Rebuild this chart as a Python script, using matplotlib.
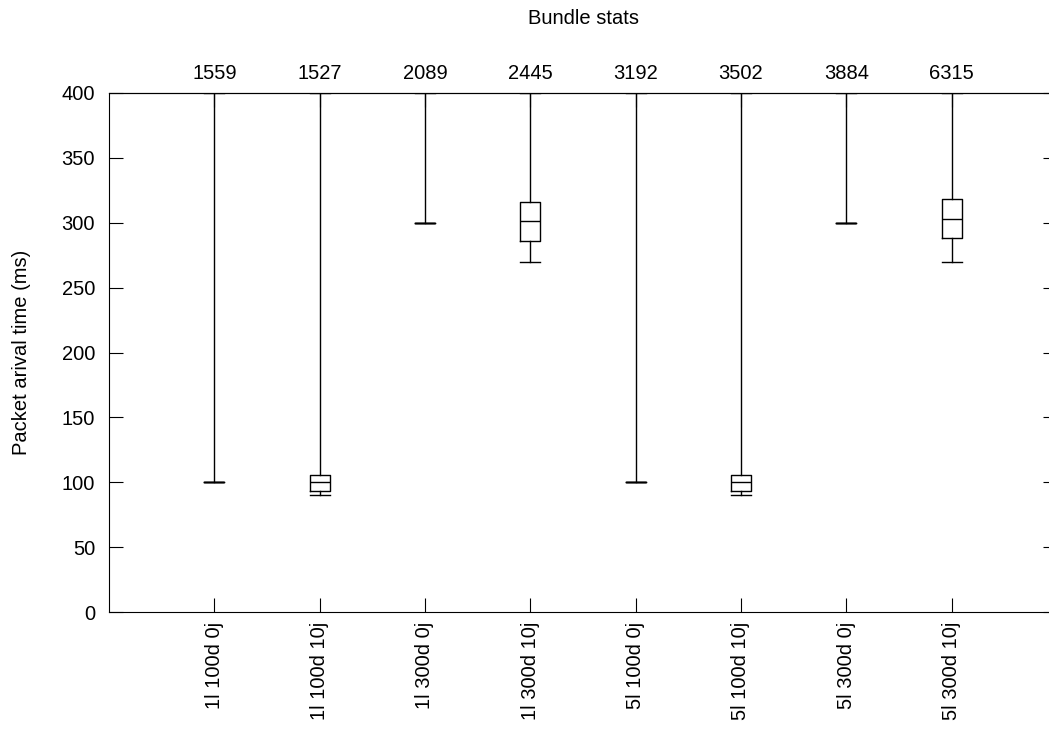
import matplotlib
matplotlib.use("Agg")
import matplotlib.pyplot as plt

plt.rcParams['font.family'] = ['Liberation Sans', 'DejaVu Sans']
FS = 14.5

labels = ["1l 100d 0j", "1l 100d 10j", "1l 300d 0j", "1l 300d 10j",
          "5l 100d 0j", "5l 100d 10j", "5l 300d 0j", "5l 300d 10j"]
counts = [1559, 1527, 2089, 2445, 3192, 3502, 3884, 6315]

# per run: min, lower quartile, median, upper quartile, max
mins = [100, 90, 300, 270, 100, 90, 300, 270]
q1s = [100, 93, 300, 286, 100, 93, 300, 288]
medians = [100, 100, 300, 301, 100, 100, 300, 303]
q3s = [100, 105.5, 300, 316, 100, 105.5, 300, 318]
maxs = [400, 400, 400, 400, 400, 400, 400, 400]

positions = list(range(1, len(labels) + 1))

fig = plt.figure(figsize=(10.49, 7.38), dpi=100)
ax = fig.add_axes([109 / 1049, 1 - 612 / 738, (1057 - 109) / 1049, (612 - 93) / 738])

stats = []
for lab, lo, a, m, b, hi in zip(labels, mins, q1s, medians, q3s, maxs):
    stats.append(dict(label=lab, whislo=lo, q1=a, med=m, q3=b, whishi=hi))

line = dict(color='black', linewidth=1.0)
ax.bxp(stats, positions=positions, widths=0.19, capwidths=0.19,
       showfliers=False, boxprops=line, whiskerprops=line, capprops=line,
       medianprops=line)

ax.set_xlim(0, 9)
ax.set_ylim(0, 400)
ax.set_yticks(range(0, 401, 50))
ax.set_xticks(positions)
ax.set_xticklabels(labels, rotation=90, ha='center', va='top', fontsize=FS)
ax.tick_params(axis='x', direction='in', length=10, pad=7, bottom=True, top=False)
ax.tick_params(axis='y', direction='in', length=10, pad=10, labelsize=FS,
               left=True, right=True)

top = ax.secondary_xaxis('top')
top.set_xticks(positions)
top.set_xticklabels([str(c) for c in counts], fontsize=FS)
top.tick_params(direction='in', length=10, pad=7)

ax.set_ylabel("Packet arival time (ms)", fontsize=FS, labelpad=22)
fig.text(583 / 1049, 1 - 18 / 738, "Bundle stats", ha='center', va='center',
         fontsize=FS)

fig.savefig("out.png", dpi=100)
